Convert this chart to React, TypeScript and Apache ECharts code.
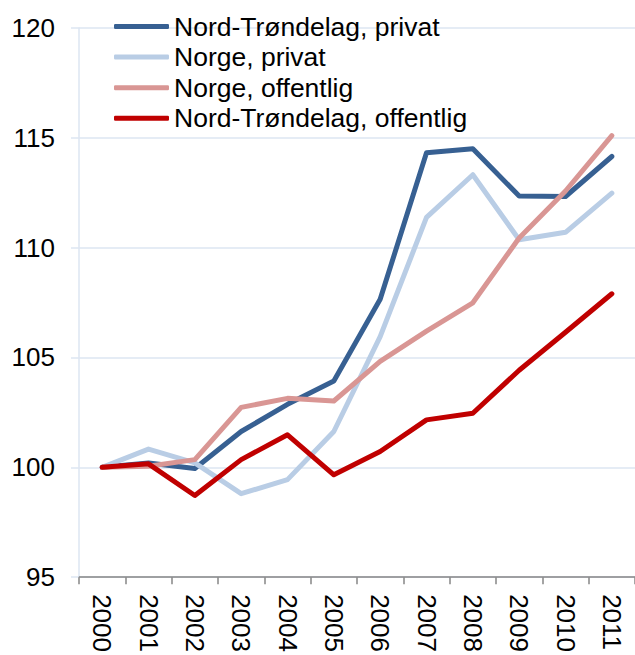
import React, { useEffect, useRef } from "react";
import * as echarts from "echarts";

const years = ["2000", "2001", "2002", "2003", "2004", "2005", "2006", "2007", "2008", "2009", "2010", "2011"];
const ntPrivat = [100, 100.2, 99.95, 101.63, 102.87, 103.93, 107.65, 114.32, 114.5, 112.35, 112.33, 114.15];
const norgePrivat = [100, 100.83, 100.2, 98.8, 99.44, 101.63, 105.95, 111.38, 113.32, 110.36, 110.7, 112.48];
const norgeOffentlig = [100, 100.05, 100.35, 102.73, 103.14, 103.02, 104.82, 106.2, 107.49, 110.44, 112.58, 115.1];
const ntOffentlig = [100, 100.16, 98.72, 100.35, 101.48, 99.66, 100.72, 102.16, 102.46, 104.42, 106.15, 107.9];
const seriesNames = ["Nord-Trøndelag, privat", "Norge, privat", "Norge, offentlig", "Nord-Trøndelag, offentlig"];
const seriesColors = ["#376092", "#b9cde5", "#d99694", "#c00000"];

export default function App() {
  const ref = useRef<HTMLDivElement>(null);
  useEffect(() => {
    document.body.style.margin = "0";
    if (!ref.current) return;
    const chart = echarts.init(ref.current, undefined, { renderer: "svg" });
    const data = [ntPrivat, norgePrivat, norgeOffentlig, ntOffentlig];
    chart.setOption({
      animation: false,
      textStyle: { fontFamily: "Liberation Sans, Arial, sans-serif" },
      grid: { left: 79, top: 28, width: 563, height: 551.3 },
      legend: {
        orient: "vertical",
        left: 114,
        top: 13,
        padding: 0,
        itemWidth: 55,
        itemHeight: 5,
        itemGap: 3.6,
        icon: "roundRect",
        textStyle: { fontSize: 26.5, color: "#000", lineHeight: 26, fontFamily: "Liberation Sans, Arial, sans-serif" },
        data: seriesNames.map((n, i) => ({ name: n, itemStyle: { color: seriesColors[i] } })),
      },
      xAxis: {
        type: "category",
        data: years,
        boundaryGap: true,
        axisLine: { lineStyle: { color: "#868686", width: 1.5 } },
        axisTick: { show: true, length: 7, lineStyle: { color: "#868686", width: 1.5 } },
        axisLabel: { rotate: -90, fontSize: 26, color: "#000", margin: 17, interval: 0 },
        splitLine: { show: false },
      },
      yAxis: {
        type: "value",
        min: 95,
        max: 120,
        interval: 5,
        axisLine: { show: true, lineStyle: { color: "#dce6f2", width: 1.5 } },
        axisTick: { show: true, length: 8, lineStyle: { color: "#dce6f2", width: 1.5 } },
        axisLabel: { fontSize: 26, color: "#000", margin: 24 },
        splitLine: { show: true, lineStyle: { color: "#dce6f2", width: 1.5 } },
      },
      series: data.map((d, i) => ({
        name: seriesNames[i],
        type: "line",
        data: d,
        showSymbol: false,
        symbol: "none",
        lineStyle: { color: seriesColors[i], width: 5, cap: "round", join: "round" },
        itemStyle: { color: seriesColors[i] },
        z: 2 + i,
      })),
    });
    return () => chart.dispose();
  }, []);
  return <div ref={ref} style={{ width: 635, height: 655 }} />;
}
